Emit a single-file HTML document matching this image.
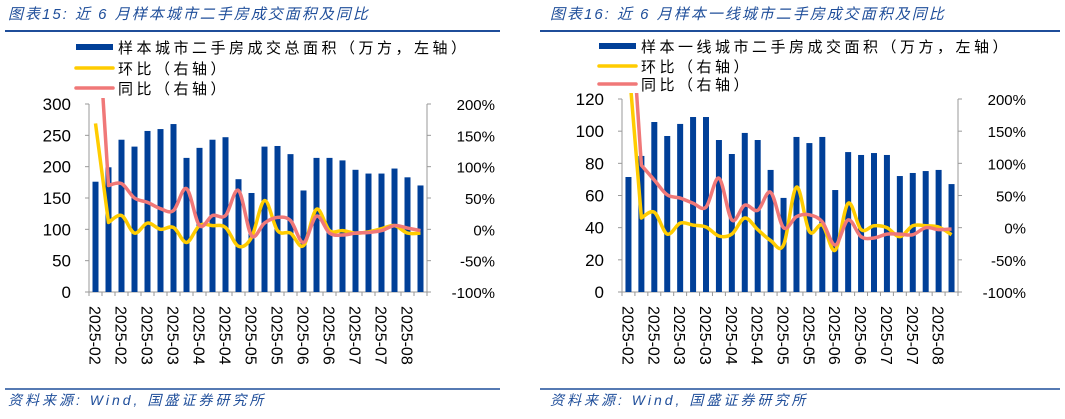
<!DOCTYPE html>
<html><head><meta charset="utf-8">
<style>
body{margin:0;background:#fff;width:1065px;height:414px;overflow:hidden;font-family:"Liberation Sans","Noto Sans CJK SC",sans-serif}
svg text{font-family:"Liberation Sans","Noto Sans CJK SC",sans-serif}
</style></head>
<body>
<svg id="s" width="1065" height="414" xmlns="http://www.w3.org/2000/svg">
<g>
<text x="8" y="19" font-size="15" font-style="italic" fill="#1f4e9a" letter-spacing="2">图表15:  近 6 月样本城市二手房成交面积及同比</text>
<line x1="5" y1="31" x2="500" y2="31" stroke="#1f4e9a" stroke-width="2"/>
</g>
<g>
<text x="550" y="19" font-size="15" font-style="italic" fill="#1f4e9a" letter-spacing="2">图表16:  近 6 月样本一线城市二手房成交面积及同比</text>
<line x1="540" y1="31" x2="1060" y2="31" stroke="#1f4e9a" stroke-width="2"/>
</g>
<line x1="5" y1="389" x2="500" y2="389" stroke="#1f4e9a" stroke-width="1.5"/>
<line x1="540" y1="389" x2="1060" y2="389" stroke="#1f4e9a" stroke-width="1.5"/>
<text x="8" y="405" font-size="14" font-style="italic" fill="#1f4e9a" letter-spacing="3">资料来源:  Wind,  国盛证券研究所</text>
<text x="550" y="405" font-size="14" font-style="italic" fill="#1f4e9a" letter-spacing="3">资料来源:  Wind,  国盛证券研究所</text>
</svg>
<script>
const labels = ["2025-02","2025-02","2025-03","2025-03","2025-04","2025-04","2025-05","2025-05","2025-06","2025-06","2025-07","2025-07","2025-08"];
const leftArea = [176,199,243,232,257,260,268,214,230,243,247,180,158,232,233,220,162,214,214,210,195,189,189,197,183,170];
const leftMom = [169,11,22,-6,10,0,3,-21,6,6,3,-27,-13,46,-2,-6,-26,32,-2,-2,-6,-4,1,6,-6,-6];
const leftYoy = [400,70,73,50,43,33,30,65,6,22,22,62,-10,10,19,14,-21,21,-6,-9,-6,-5,-2,6,2,-2];
const leftTicks = [0,50,100,150,200,250,300];
const rightArea = [71.5,84.6,105.7,97,104.5,108.8,108.8,94.5,85.8,98.9,94.5,75.9,58.5,96.4,92.6,96.4,63.4,87,85.2,86.4,85.2,72.1,74,75.2,75.9,67.1];
const rightMom = [260,15,24,-10,7,4,1,-13,-10,15,-3,-20,-27,63,-6,4,-35,38,-3,3,0,-14,3,3,1,-11];
const rightYoy = [400,97,74,51,46,38,32,77,12,35,27,55,0,17,20,9,-27,12,-14,-16,-10,-10,-11,0,-3,-2];
const rightTicks = [0,20,40,60,80,100,120];
const pctTicks = [-100,-50,0,50,100,150,200];

const NS="http://www.w3.org/2000/svg";
const svg=document.getElementById('s');
function mk(tag,attrs,parent){const e=document.createElementNS(NS,tag);for(const k in attrs)e.setAttribute(k,attrs[k]);(parent||svg).appendChild(e);return e;}
function smooth(pts){
  let d="M"+pts[0][0]+","+pts[0][1]+" L"+pts[1][0]+","+pts[1][1];
  for(let i=1;i<pts.length-1;i++){
    const p0=i-1>=1?pts[i-1]:pts[i],p1=pts[i],p2=pts[i+1],p3=pts[i+2]||p2;
    const c1x=p1[0]+(p2[0]-p0[0])/6,c1y=p1[1]+(p2[1]-p0[1])/6,c2x=p2[0]-(p3[0]-p1[0])/6,c2y=p2[1]-(p3[1]-p1[1])/6;
    d+=` C${c1x},${c1y} ${c2x},${c2y} ${p2[0]},${p2[1]}`;}
  return d;}

function chart(o){
  const g=mk('g',{});
  
  
  const n=o.area.length, x0=o.x0,x1=o.x1,yT=o.yT,yB=o.yB;
  const step=(x1-x0)/n;
  const xs=i=>x0+step*(i+0.5);
  const yL=v=>yB-(v/o.lmax)*(yB-yT);
  const yR=v=>yB-((v+100)/300)*(yB-yT);
  const ax=mk('path',{d:`M${x0},${yT} v${yB-yT} h${x1-x0} v${yT-yB}`,fill:'none',stroke:'#999','stroke-width':1},g);
  
  
  o.lt.forEach(v=>{
    mk('line',{x1:x0-4,x2:x0,y1:yL(v),y2:yL(v),stroke:'#999'},g);
    const t=mk('text',{x:x0-18,y:yL(v)+6,'font-size':17,'text-anchor':'end',fill:'#000'},g);t.textContent=v;
    
    
  });
  pctTicks.forEach(v=>{
    mk('line',{x1:x1,x2:x1+4,y1:yR(v),y2:yR(v),stroke:'#999'},g);
    const t=mk('text',{x:x1+68,y:yR(v)+6,'font-size':15,'text-anchor':'end',fill:'#000'},g);t.textContent=v+'%';
    
    
  });
  for(let i=0;i<=n;i++) mk('line',{x1:x0+step*i,x2:x0+step*i,y1:yB,y2:yB+4,stroke:'#999'},g);
  o.area.forEach((v,i)=>{
    const r=mk('rect',{x:xs(i)-3,y:yL(v),width:6,height:yB-yL(v),fill:'#003f98'},g);
    
    
  });
  const cid=o.id+'-clip';
  const cp=mk('clipPath',{id:cid},g);mk('rect',{x:x0,y:yT-6,width:x1-x0,height:yB-yT+6},cp);
  const p1=mk('path',{d:smooth(o.mom.map((v,i)=>[xs(i),yR(v)])),fill:'none',stroke:'#ffcc00','stroke-width':3.5,'stroke-linejoin':'round','clip-path':`url(#${cid})`},g);
  
  
  const p2=mk('path',{d:smooth(o.yoy.map((v,i)=>[xs(i),yR(v)])),fill:'none',stroke:'#f07878','stroke-width':3.5,'stroke-linejoin':'round','clip-path':`url(#${cid})`},g);
  
  
  labels.forEach((l,k)=>{
    const x=xs(k*2);
    const t=mk('text',{x:0,y:0,'font-size':16,fill:'#000',transform:`translate(${x-6},${yB+14}) rotate(90)`},g);t.textContent=l;
    
    
  });
  const L=o.leg;
  const items=[['bar',o.legText,'#003f98',6],['mom','环比（右轴）','#ffcc00',3.5],['yoy','同比（右轴）','#f07878',3.5]];
  items.forEach((it,k)=>{
    const y=L.ys[k];
    const lg=mk('g',{},g);
    
    
    mk('line',{x1:L.x,x2:L.x+L.w,y1:y,y2:y,stroke:it[2],'stroke-width':it[3],'stroke-linecap':it[0]=='bar'?'butt':'round'},lg);
    const t=mk('text',{x:L.x+L.w+5,y:y+6,'font-size':15,fill:'#000','letter-spacing':'3.5'},lg);t.textContent=it[1];
  });
}
chart({id:'left',area:leftArea,mom:leftMom,yoy:leftYoy,lt:leftTicks,lmax:300,x0:89,x1:427,yT:104,yB:292,
  legText:'样本城市二手房成交总面积（万方，左轴）',leg:{x:76,w:37,ys:[47,68,88]}});
chart({id:'right',area:rightArea,mom:rightMom,yoy:rightYoy,lt:rightTicks,lmax:120,x0:622,x1:958,yT:99,yB:292,
  legText:'样本一线城市二手房成交面积（万方，左轴）',leg:{x:599,w:37,ys:[46,66,84]}});
</script>
</body></html>
